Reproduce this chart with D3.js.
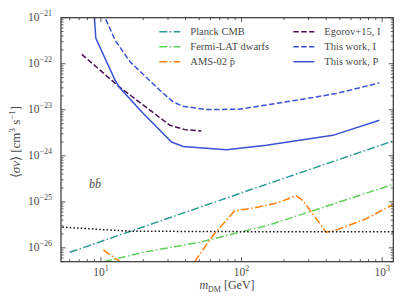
<!DOCTYPE html>
<html><head><meta charset="utf-8">
<script src="https://cdn.jsdelivr.net/npm/d3@7"></script>
<style>
html,body{margin:0;padding:0;background:#fff;}
text{font-family:"Liberation Serif","Times New Roman",serif;fill:#4a4a4a;}
</style></head>
<body>
<svg id="c" width="407" height="305"></svg>
<script>
// ---- data ----
const planckMass = [6, 114, 1200];
const planckSigv = [8.0e-27, 1.8e-25, 2.1e-24];

const fermiMass = [10.5, 20, 50, 158, 400, 1200];
const fermiSigv = [5.0e-27, 8.0e-27, 1.32e-26, 3.15e-26, 8.0e-26, 2.4e-25];

const amsMass = [10.4, 13.9, 28, 45.9, 62.6, 89.3, 124, 180, 245, 273, 400, 497, 769, 1190];
const amsSigv = [9.0e-27, 4.8e-27, 1.2e-27, 4.8e-27, 1.85e-26, 6.4e-26, 7.4e-26, 9.5e-26, 1.35e-25, 1.07e-25, 2.18e-26, 2.58e-26, 4.27e-26, 8.7e-26];

const relicMass = [5, 10, 16, 100, 1200];
const relicSigv = [2.85e-26, 2.5e-26, 2.3e-26, 2.25e-26, 2.25e-26];

const egorovMass = [7.3, 13.6, 30.9, 39.5, 51.8];
const egorovSigv = [1.6e-22, 3.1e-23, 4.6e-24, 3.7e-24, 3.45e-24];

const thisIMass = [10.3, 10.7, 12.6, 16.1, 26.2, 32.6, 38.4, 56.2, 96.9, 245, 471, 955];
const thisISigv = [2e-21, 1e-21, 3.27e-22, 1.1e-22, 2.66e-23, 1.48e-23, 1.19e-23, 1.01e-23, 1.03e-23, 1.61e-23, 2.25e-23, 3.84e-23];

const thisPMass = [8.85, 9.2, 12.6, 13.6, 20, 31.8, 38.4, 78, 150, 446, 955];
const thisPSigv = [2e-21, 3.56e-22, 4.4e-23, 3.0e-23, 8.3e-24, 1.99e-24, 1.6e-24, 1.36e-24, 1.69e-24, 2.78e-24, 5.9e-24];

const xTickVals = [10, 100, 1000];
const xTickExp = ["1", "2", "3"];
const yTickVals = [1e-21, 1e-22, 1e-23, 1e-24, 1e-25, 1e-26];
const yTickExp = ["\u221221", "\u221222", "\u221223", "\u221224", "\u221225", "\u221226"];

const legendNames = ["Planck CMB", "Fermi-LAT dwarfs", "AMS-02 p\u0304", "Egorov+15, I", "This work, I", "This work, P"];

// ---- layout ----
const L = 61, R = 393.3, T = 17.7, B = 261.7;
const svg = d3.select("#c");
const x = d3.scaleLog().domain([5.2, 1200]).range([L, R]);
const y = d3.scaleLog().domain([5e-27, 1e-21]).range([B, T]);

svg.append("clipPath").attr("id", "clip").append("rect")
  .attr("x", L).attr("y", T).attr("width", R - L).attr("height", B - T);

const line = d3.line().x(d => x(d[0])).y(d => y(d[1]));
const zip = (a, b) => a.map((v, i) => [v, b[i]]);

const series = [
  {m: planckMass, s: planckSigv, color: "#2a9b93", dash: "8,2.4,1.5,2.4", w: 1.5},
  {m: fermiMass, s: fermiSigv, color: "#5fcf5a", dash: "8,2.4,1.5,2.4", w: 1.5},
  {m: amsMass, s: amsSigv, color: "#ff800e", dash: "8,2.4,1.5,2.4", w: 1.5},
  {m: relicMass, s: relicSigv, color: "#111", dash: "1.5,2.2", w: 1.5},
  {m: egorovMass, s: egorovSigv, color: "#4a1050", dash: "5.5,2.4", w: 1.5},
  {m: thisIMass, s: thisISigv, color: "#3b52d3", dash: "5.5,2.4", w: 1.5},
  {m: thisPMass, s: thisPSigv, color: "#3b52d3", dash: null, w: 1.5}
];

const g = svg.append("g").attr("clip-path", "url(#clip)");
series.forEach(sr => {
  g.append("path").datum(zip(sr.m, sr.s))
    .attr("d", line).attr("fill", "none")
    .attr("stroke", sr.color).attr("stroke-width", sr.w)
    .attr("stroke-dasharray", sr.dash);
});

// ---- axes (ticks inward on all four sides) ----
const axisColor = "#333";
const ax = svg.append("g");
function minorTicks(domain) {
  const out = [];
  const lo = Math.floor(Math.log10(domain[0])), hi = Math.ceil(Math.log10(domain[1]));
  for (let e = lo; e <= hi; e++) for (let k = 1; k <= 9; k++) {
    const v = k * Math.pow(10, e);
    if (v >= domain[0] * 0.9999 && v <= domain[1] * 1.0001) out.push({v, major: k === 1});
  }
  return out;
}
minorTicks(x.domain()).forEach(t => {
  const len = t.major ? 4.5 : 2.5;
  const px = x(t.v);
  ax.append("line").attr("x1", px).attr("x2", px).attr("y1", B).attr("y2", B - len).attr("stroke", axisColor).attr("stroke-width", 0.8);
  ax.append("line").attr("x1", px).attr("x2", px).attr("y1", T).attr("y2", T + len).attr("stroke", axisColor).attr("stroke-width", 0.8);
});
minorTicks(y.domain()).forEach(t => {
  const len = t.major ? 4.5 : 2.5;
  const py = y(t.v);
  ax.append("line").attr("y1", py).attr("y2", py).attr("x1", L).attr("x2", L + len).attr("stroke", axisColor).attr("stroke-width", 0.8);
  ax.append("line").attr("y1", py).attr("y2", py).attr("x1", R).attr("x2", R - len).attr("stroke", axisColor).attr("stroke-width", 0.8);
});
ax.append("rect").attr("x", L).attr("y", T).attr("width", R - L).attr("height", B - T)
  .attr("fill", "none").attr("stroke", axisColor).attr("stroke-width", 1.2);

// tick labels
xTickVals.forEach((v, i) => {
  const t = svg.append("text").attr("x", x(v)).attr("y", 276).attr("text-anchor", "middle").attr("font-size", 11.5);
  t.append("tspan").text("10");
  t.append("tspan").attr("dy", -5).attr("font-size", 8).text(xTickExp[i]);
});
yTickVals.forEach((v, i) => {
  const t = svg.append("text").attr("x", 52).attr("y", y(v) + 3.5).attr("text-anchor", "end").attr("font-size", 11.5);
  t.append("tspan").text("10");
  t.append("tspan").attr("dy", -5).attr("font-size", 8).text(yTickExp[i]);
});

// axis labels
const xl = svg.append("text").attr("x", 227).attr("y", 289).attr("text-anchor", "middle").attr("font-size", 12);
xl.append("tspan").attr("font-style", "italic").text("m");
xl.append("tspan").attr("dy", 2.5).attr("font-size", 8).text("DM");
xl.append("tspan").attr("dy", -2.5).text(" [GeV]");

const yl = svg.append("text").attr("transform", "translate(20,142) rotate(-90)").attr("text-anchor", "middle").attr("font-size", 13);
yl.append("tspan").text("\u27E8");
yl.append("tspan").attr("font-style", "italic").text("\u03C3v");
yl.append("tspan").text("\u27E9 [cm");
yl.append("tspan").attr("dy", -5).attr("font-size", 9).text("3");
yl.append("tspan").attr("dy", 5).text(" s");
yl.append("tspan").attr("dy", -5).attr("font-size", 9).text("\u22121");
yl.append("tspan").attr("dy", 5).text("]");

// channel annotation
svg.append("text").attr("x", 95).attr("y", 188).attr("text-anchor", "middle")
  .attr("font-size", 12).attr("font-style", "italic").text("bb\u0304");

// legend
const legPos = [[159.3, 31.7], [159.3, 46.7], [159.3, 61.7], [293.3, 31.7], [293.3, 46.7], [293.3, 61.7]];
const legOrder = [0, 1, 2, 4, 5, 6];
legOrder.forEach((si, i) => {
  const sr = series[si];
  const [lx, ly] = legPos[i];
  svg.append("line").attr("x1", lx).attr("x2", lx + 21).attr("y1", ly).attr("y2", ly)
    .attr("stroke", sr.color).attr("stroke-width", sr.w).attr("stroke-dasharray", sr.dash);
  svg.append("text").attr("x", lx + 31).attr("y", ly + 3.5).attr("font-size", 10.5).text(legendNames[i]);
});
</script>
</body></html>
